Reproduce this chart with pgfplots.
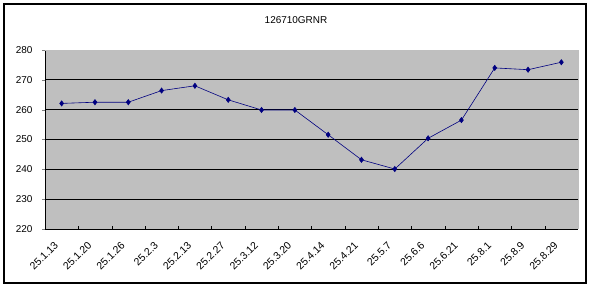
\documentclass[border=0pt]{standalone}
\usepackage{fontspec}
\setmainfont{Liberation Sans}
\usepackage{pgfplots}
\pgfplotsset{compat=1.18}
\begin{document}
\begin{tikzpicture}[x=1bp,y=1bp]
\path[use as bounding box] (-45,-59) rectangle (547,229);
\fill[white] (-45,-59) rectangle (547,229);
\draw[black,line width=1.2bp] (-41,-54) rectangle (541,225);
\begin{axis}[
  at={(0,0)}, anchor=south west,
  scale only axis, width=533bp, height=179bp,
  xmin=-0.5, xmax=15.5, ymin=220, ymax=280,
  ytick={220,230,240,250,260,270,280},
  xtick={0,...,15},
  xticklabels={25.1.13,25.1.20,25.1.26,25.2.3,25.2.13,25.2.27,25.3.12,25.3.20,25.4.14,25.4.21,25.5.7,25.6.6,25.6.21,25.8.1,25.8.9,25.8.29},
  minor xtick={0.5,1.5,...,14.5},
  major x tick style={draw=none},
  minor tick length=3bp,
  xtick pos=bottom, ytick pos=left,
  x tick style={black}, 
  xtick align=inside, ytick align=outside,
  major tick length=3bp,
  ymajorgrids, grid style={black, line width=0.8bp},
  axis background/.style={fill=black!25},
  axis line style={black, line width=0.8bp},
  axis x line*=bottom, 
  axis y line*=left,
  every outer x axis line/.append style={line width=1bp},
  tick label style={font=\fontsize{10}{12}\selectfont},
  /pgf/number format/assume math mode=true,
  xticklabel style={xshift=-8bp, yshift=-7bp, rotate=45, anchor=north east, font=\fontsize{10.5}{12}\selectfont},
  yticklabel style={xshift=-6bp},
  clip=false,
]
\draw[draw=black!25, line width=0.8bp] (rel axis cs:0,1) -- (rel axis cs:1,1) -- (rel axis cs:1,0);
\addplot[color={rgb,255:red,0;green,0;blue,128}, line width=0.6bp, mark=diamond*, mark size=2.6bp, mark options={fill={rgb,255:red,0;green,0;blue,128}}] coordinates {
(0,262.1) (1,262.5) (2,262.5) (3,266.4) (4,268.0) (5,263.3) (6,259.9) (7,259.9)
(8,251.6) (9,243.2) (10,240.1) (11,250.4) (12,256.5) (13,274.0) (14,273.4) (15,275.9)
};
\end{axis}
\node[font=\fontsize{10}{12}\selectfont] at (251,209) {126710GRNR};
\end{tikzpicture}
\end{document}
